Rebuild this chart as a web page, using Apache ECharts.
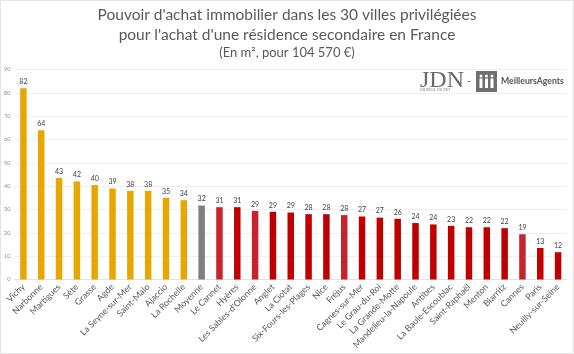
<!DOCTYPE html>
<html>
<head>
<meta charset="utf-8">
<style>
  html, body { margin: 0; padding: 0; background: #fff; }
  #chart { width: 574px; height: 354px; }
</style>
<script src="https://cdn.jsdelivr.net/npm/echarts@6/dist/echarts.min.js"></script>
</head>
<body>
<div id="chart"></div>
<script>
const villes = ['Vichy', 'Narbonne', 'Martigues', 'Sète', 'Grasse', 'Agde', 'La Seyne-sur-Mer', 'Saint-Malo', 'Ajaccio', 'La Rochelle', 'Moyenne', 'Le Cannet', 'Hyères', "Les Sables-d'Olonne", 'Anglet', 'La Ciotat', 'Six-Fours-les-Plages', 'Nice', 'Fréjus', 'Cagnes-sur-Mer', 'Le Grau-du-Roi', 'La Grande-Motte', 'Mandelieu-la-Napoule', 'Antibes', 'La Baule-Escoublac', 'Saint-Raphaël', 'Menton', 'Biarritz', 'Cannes', 'Paris', 'Neuilly-sur-Seine'];
const surfaces = [82, 64, 43.5, 42, 40.5, 39, 38, 38, 35, 34, 31.7, 31, 31, 29.4, 29, 28.7, 28, 28, 27.6, 27, 26.5, 26, 24.2, 23.6, 23, 22.4, 22.4, 22, 19.4, 13.5, 11.7];
const etiquettes = [82, 64, 43, 42, 40, 39, 38, 38, 35, 34, 32, 31, 31, 29, 29, 29, 28, 28, 28, 27, 27, 26, 24, 24, 23, 22, 22, 22, 19, 13, 12];
const couleurs = ['#E8A700', '#E8A700', '#E8A700', '#E8A700', '#E8A700', '#E8A700', '#E8A700', '#E8A700', '#E8A700', '#E8A700', '#7F7F7F', '#C8232C', '#C00000', '#C8232C', '#C00000', '#C00000', '#C00000', '#C00000', '#C8232C', '#C00000', '#C00000', '#C00000', '#C00000', '#C00000', '#C00000', '#C00000', '#C00000', '#C00000', '#C8232C', '#C00000', '#C00000'];
const titres = ["Pouvoir d'achat immobilier dans les 30 villes privilégiées", "pour l'achat d'une résidence secondaire en France", '(En m², pour 104 570 €)'];

const police = 'Lato, "Noto Sans", sans-serif';
const myChart = echarts.init(document.getElementById('chart'), null, { renderer: 'canvas' });

// silhouettes du logo
const silhouettes = [481, 486.5, 492].map(function (x) {
    return [
        { type: 'circle', shape: { cx: x, cy: 76, r: 1.5 }, style: { fill: '#fff' } },
        { type: 'rect', shape: { x: x - 1.5, y: 78.5, width: 3, height: 9.5 }, style: { fill: '#fff' } }
    ];
}).flat();

myChart.setOption({
    animation: false,
    backgroundColor: '#fff',
    grid: { left: 14.5, right: 7, top: 69.5, bottom: 74.5, outerBoundsMode: 'none' },
    xAxis: {
        type: 'category',
        data: villes,
        axisTick: { show: false },
        axisLine: { lineStyle: { color: '#E2E2E2', width: 1 } },
        axisLabel: { interval: 0, rotate: 45, margin: 6, color: '#595959', fontFamily: police, fontSize: 8.8 }
    },
    yAxis: {
        type: 'value',
        min: 0,
        max: 90,
        interval: 10,
        axisLine: { show: false },
        axisTick: { show: false },
        axisLabel: { margin: 4, color: '#8C8C8C', fontFamily: police, fontSize: 5.5 },
        splitLine: { lineStyle: { color: '#EFEFEF', width: 1 } }
    },
    series: [{
        type: 'bar',
        barWidth: 6.5,
        data: surfaces.map(function (v, i) {
            return { value: v, itemStyle: { color: couleurs[i] } };
        }),
        label: {
            show: true,
            position: 'top',
            distance: 3,
            color: '#404040',
            fontFamily: police,
            fontSize: 7,
            formatter: function (p) { return etiquettes[p.dataIndex]; }
        }
    }],
    graphic: [
        { type: 'rect', silent: true, shape: { x: 0.5, y: 0.5, width: 573, height: 353 }, style: { fill: 'none', stroke: '#E4E4E4', lineWidth: 1 } },
        { type: 'text', x: 287, y: 15, style: { text: titres[0], fill: '#595959', font: '15.5px ' + police, align: 'center', verticalAlign: 'middle' } },
        { type: 'text', x: 287, y: 35, style: { text: titres[1], fill: '#595959', font: '15.5px ' + police, align: 'center', verticalAlign: 'middle' } },
        { type: 'text', x: 287, y: 53, style: { text: titres[2], fill: '#595959', font: '13px ' + police, align: 'center', verticalAlign: 'middle' } },
        { type: 'text', x: 420, y: 81, style: { text: 'JDN', fill: '#6A6A6A', font: '24px "Liberation Serif", serif', align: 'left', verticalAlign: 'middle' } },
        { type: 'text', x: 420, y: 90.5, style: { text: 'JOURNAL DU NET', fill: '#777', font: '3.6px "Liberation Serif", serif', align: 'left', verticalAlign: 'middle' } },
        { type: 'text', x: 469, y: 81, style: { text: '-', fill: '#666', font: '11px ' + police, align: 'center', verticalAlign: 'middle' } },
        { type: 'rect', shape: { x: 476, y: 71, width: 21, height: 21 }, style: { fill: '#6E6E6E' } },
        { type: 'group', children: silhouettes },
        { type: 'text', x: 501, y: 81, style: { text: 'MeilleursAgents', fill: '#555', font: '700 8.7px ' + police, align: 'left', verticalAlign: 'middle' } }
    ]
});
</script>
</body>
</html>
